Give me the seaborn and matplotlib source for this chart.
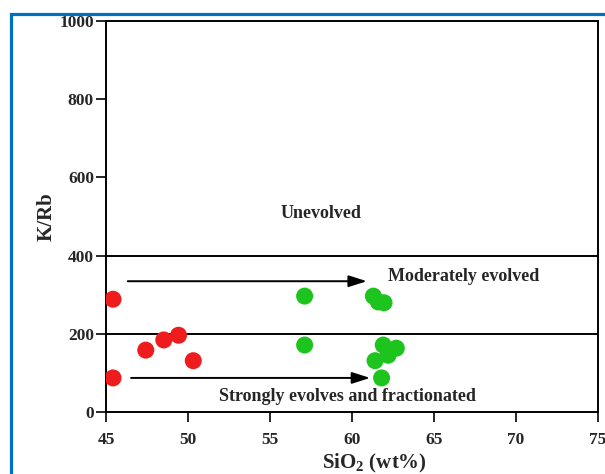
import matplotlib
matplotlib.use("Agg")
import matplotlib.pyplot as plt
import seaborn as sns
import pandas as pd
from matplotlib.patches import Rectangle

# ---- data ----
red_sio2 = [45.4, 45.4, 47.4, 48.5, 49.4, 50.3]
red_krb = [289, 88, 159, 185, 197, 132]
green_sio2 = [57.1, 57.1, 61.3, 61.6, 61.95, 61.9, 62.7, 62.2, 61.4, 61.8]
green_krb = [297, 172, 297, 282, 280, 172, 164, 146, 132, 88]
x_ticks = [45, 50, 55, 60, 65, 70, 75]
y_ticks = [0, 200, 400, 600, 800, 1000]
boundaries = [400, 200]
zone_labels = ["Unevolved", "Moderately evolved", "Strongly evolves and fractionated"]
zone_label_x = [58.1, 66.8, 59.7]
zone_label_y = [508, 348, 40]
arrow_start = [(46.3, 335), (46.5, 88)]
arrow_end = [(60.9, 335), (61.1, 88)]

df = pd.DataFrame({
    "SiO2": red_sio2 + green_sio2,
    "KRb": red_krb + green_krb,
    "group": ["red"] * len(red_sio2) + ["green"] * len(green_sio2),
})

sns.set_style("ticks")
plt.rcParams["font.family"] = ["Liberation Serif", "DejaVu Serif"]
plt.rcParams["font.weight"] = "bold"
plt.rcParams["mathtext.fontset"] = "custom"
plt.rcParams["mathtext.rm"] = "Liberation Serif:bold"
plt.rcParams["mathtext.bf"] = "Liberation Serif:bold"

fig = plt.figure(figsize=(6.05, 4.74), dpi=100)
ax = fig.add_axes([0.176, 0.130, 0.812, 0.826])

sns.scatterplot(data=df, x="SiO2", y="KRb", hue="group",
                palette={"red": "#EE1C1C", "green": "#1DC41D"},
                s=150, linewidth=0, legend=False, ax=ax, zorder=3)

for b in boundaries:
    ax.axhline(b, color="black", lw=1.4, zorder=2)

for (x0, y0), (x1, y1) in zip(arrow_start, arrow_end):
    ax.annotate("", xy=(x1, y1), xytext=(x0, y0),
                arrowprops=dict(arrowstyle="-|>,head_length=1.1,head_width=0.35",
                                color="black", lw=1.4, shrinkA=0, shrinkB=0))

for t, x, y in zip(zone_labels, zone_label_x, zone_label_y):
    ax.text(x, y, t, ha="center", va="center", fontsize=13, fontweight="bold")

ax.set_xlim(45, 75)
ax.set_ylim(0, 1000)
ax.set_xticks(x_ticks)
ax.set_yticks(y_ticks)
ax.tick_params(axis="both", direction="out", length=7, width=1.4, labelsize=12.5)
ax.tick_params(axis="x", pad=7)
ax.tick_params(axis="y", pad=2)
for lab in ax.get_xticklabels() + ax.get_yticklabels():
    lab.set_fontweight("bold")
for sp in ax.spines.values():
    sp.set_linewidth(1.4)
    sp.set_color("black")

ax.set_ylabel("K/Rb", fontsize=15, fontweight="bold")
ax.yaxis.set_label_coords(-0.101, 0.5)
ax.set_xlabel(r"SiO$_\mathbf{2}$ (wt%)", fontsize=15, fontweight="bold")
ax.xaxis.set_label_coords(0.546, -0.100)

border = Rectangle((10.8 / 605, -0.5), 2, (474 - 13.8) / 474 + 0.5,
                   transform=fig.transFigure, fill=False,
                   edgecolor="#0070C0", lw=2.3, zorder=10)
fig.patches.append(border)

fig.savefig("out.png", dpi=100)
